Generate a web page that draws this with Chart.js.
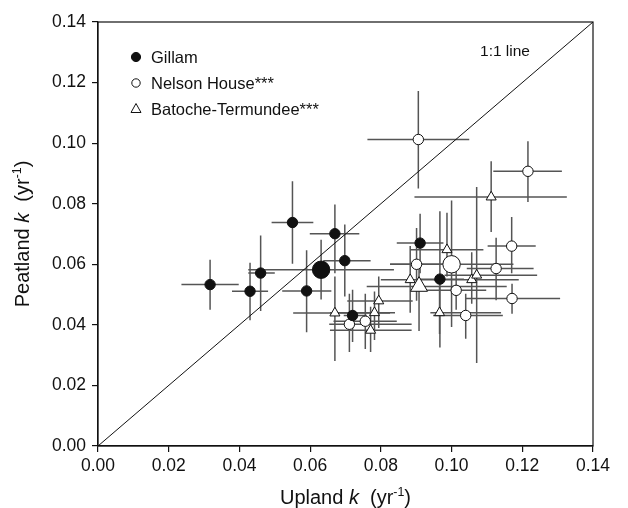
<!DOCTYPE html>
<html>
<head>
<meta charset="utf-8">
<script src="https://cdn.jsdelivr.net/npm/chart.js@4.4.1/dist/chart.umd.min.js"></script>
<style>
  html, body { margin: 0; padding: 0; background: #fff; }
  canvas { display: block; }
</style>
</head>
<body>
<canvas id="kChart" width="628" height="508"></canvas>
<script>
// values (k in yr^-1)
const gillamX   = [0.0317, 0.0430, 0.0460, 0.0550, 0.0590, 0.0631, 0.0670, 0.0698, 0.0720, 0.0911, 0.0967];
const gillamY   = [0.0533, 0.0511, 0.0571, 0.0738, 0.0512, 0.0582, 0.0701, 0.0612, 0.0431, 0.0670, 0.0551];
const gillamXLo = [0.0236, 0.0379, 0.0425, 0.0491, 0.0521, 0.0425, 0.0599, 0.0637, 0.0695, 0.0845, 0.0900];
const gillamXHi = [0.0398, 0.0481, 0.0500, 0.0609, 0.0660, 0.0837, 0.0739, 0.0771, 0.0760, 0.0977, 0.1035];
const gillamYLo = [0.0450, 0.0415, 0.0446, 0.0602, 0.0376, 0.0484, 0.0570, 0.0494, 0.0343, 0.0570, 0.0325];
const gillamYHi = [0.0615, 0.0605, 0.0695, 0.0874, 0.0646, 0.0681, 0.0797, 0.0731, 0.0516, 0.0767, 0.0775];

const nelsonX   = [0.0906, 0.1216, 0.1170, 0.1126, 0.1171, 0.1000, 0.0901, 0.1013, 0.1040, 0.0711, 0.0756];
const nelsonY   = [0.1012, 0.0907, 0.0660, 0.0586, 0.0487, 0.0600, 0.0600, 0.0514, 0.0431, 0.0402, 0.0412];
const nelsonXLo = [0.0762, 0.1118, 0.1102, 0.1043, 0.1038, 0.0826, 0.0826, 0.0920, 0.0948, 0.0654, 0.0666];
const nelsonXHi = [0.1050, 0.1312, 0.1238, 0.1232, 0.1307, 0.1175, 0.0977, 0.1098, 0.1145, 0.0887, 0.0845];
const nelsonYLo = [0.0850, 0.0806, 0.0570, 0.0481, 0.0437, 0.0393, 0.0480, 0.0450, 0.0354, 0.0310, 0.0320];
const nelsonYHi = [0.1172, 0.1006, 0.0756, 0.0688, 0.0536, 0.0811, 0.0720, 0.0590, 0.0503, 0.0503, 0.0503];

const batocheX   = [0.1112, 0.0987, 0.0908, 0.0883, 0.1057, 0.1071, 0.0966, 0.0670, 0.0794, 0.0782, 0.0771];
const batocheY   = [0.0822, 0.0648, 0.0527, 0.0549, 0.0549, 0.0564, 0.0440, 0.0439, 0.0479, 0.0440, 0.0382];
const batocheXLo = [0.0895, 0.0883, 0.0760, 0.0800, 0.0950, 0.0980, 0.0940, 0.0552, 0.0705, 0.0656, 0.0656];
const batocheXHi = [0.1326, 0.1090, 0.1156, 0.0980, 0.1190, 0.1242, 0.1140, 0.0826, 0.0890, 0.0840, 0.0887];
const batocheYLo = [0.0707, 0.0560, 0.0380, 0.0440, 0.0470, 0.0274, 0.0370, 0.0281, 0.0390, 0.0350, 0.0310];
const batocheYHi = [0.0940, 0.0770, 0.0590, 0.0660, 0.0640, 0.0855, 0.0530, 0.0560, 0.0560, 0.0510, 0.0460];

// the mean of each region is drawn larger
const gillamMean = 5, nelsonMean = 5, batocheMean = 2;

const axisTicks = [0, 0.02, 0.04, 0.06, 0.08, 0.10, 0.12, 0.14];
const oneToOne = [0, 0.14];

const FONT = '"Liberation Sans", Arial, Helvetica, sans-serif';

const toPoints = (xs, ys, lx, hx, ly, hy) =>
    xs.map((x, i) => ({ x: x, y: ys[i], xMin: lx[i], xMax: hx[i], yMin: ly[i], yMax: hy[i] }));

const radii = (n, big, r, R) => Array.from({ length: n }, (_, i) => i === big ? R : r);

// error bars, drawn under the markers
const errorBars = {
    id: 'errorBars',
    beforeDatasetsDraw(chart) {
        const ctx = chart.ctx, xs = chart.scales.x, ys = chart.scales.y;
        ctx.save();
        ctx.strokeStyle = '#555';
        ctx.lineWidth = 1.5;
        chart.data.datasets.forEach(ds => {
            if (!ds.bars) return;
            ds.data.forEach(p => {
                const px = xs.getPixelForValue(p.x), py = ys.getPixelForValue(p.y);
                ctx.beginPath();
                ctx.moveTo(xs.getPixelForValue(p.xMin), py);
                ctx.lineTo(xs.getPixelForValue(p.xMax), py);
                ctx.moveTo(px, ys.getPixelForValue(p.yMin));
                ctx.lineTo(px, ys.getPixelForValue(p.yMax));
                ctx.stroke();
            });
        });
        ctx.restore();
    }
};

// mixed-style text: parts of [text, kind] with kind '', 'i' (italic) or 's' (superscript)
function drawRich(ctx, parts, size, cx, cy, angle) {
    const fontFor = k => (k === 'i' ? 'italic ' : '') + (k === 's' ? size * 0.62 : size) + 'px ' + FONT;
    let total = 0;
    parts.forEach(([t, k]) => { ctx.font = fontFor(k); total += ctx.measureText(t).width; });
    ctx.save();
    ctx.translate(cx, cy);
    ctx.rotate(angle);
    ctx.fillStyle = '#111';
    ctx.textBaseline = 'alphabetic';
    ctx.textAlign = 'left';
    let x = -total / 2;
    parts.forEach(([t, k]) => {
        ctx.font = fontFor(k);
        ctx.fillText(t, x, k === 's' ? -size * 0.42 + size * 0.36 : size * 0.36);
        x += ctx.measureText(t).width;
    });
    ctx.restore();
}

const decorations = {
    id: 'decorations',
    afterDraw(chart) {
        const ctx = chart.ctx, a = chart.chartArea;
        ctx.save();
        // frame
        ctx.strokeStyle = '#111';
        ctx.lineWidth = 1.2;
        ctx.strokeRect(a.left, a.top, a.right - a.left, a.bottom - a.top);

        // legend
        const rows = [['Gillam', 'fill'], ['Nelson House***', 'open'], ['Batoche-Termundee***', 'tri']];
        rows.forEach(([label, kind], i) => {
            const mx = 136, my = 57 + i * 26;
            ctx.beginPath();
            if (kind === 'tri') {
                ctx.moveTo(mx, my - 5.5);
                ctx.lineTo(mx + 5, my + 3.5);
                ctx.lineTo(mx - 5, my + 3.5);
                ctx.closePath();
            } else {
                ctx.arc(mx, my, kind === 'fill' ? 4.6 : 4.2, 0, Math.PI * 2);
            }
            ctx.fillStyle = kind === 'fill' ? '#111' : '#fff';
            ctx.fill();
            ctx.lineWidth = 1;
            ctx.strokeStyle = '#111';
            ctx.stroke();
            ctx.fillStyle = '#111';
            ctx.font = '16.5px ' + FONT;
            ctx.textAlign = 'left';
            ctx.textBaseline = 'middle';
            ctx.fillText(label, 151, my + 1);
        });

        ctx.font = '15.5px ' + FONT;
        ctx.textAlign = 'center';
        ctx.fillText('1:1 line', 505, 52);
        ctx.restore();

        // axis titles
        drawRich(ctx, [['Upland ', ''], ['k', 'i'], ['  (yr', ''], ['-1', 's'], [')', '']], 20, (a.left + a.right) / 2, 497, 0);
        drawRich(ctx, [['Peatland ', ''], ['k', 'i'], ['  (yr', ''], ['-1', 's'], [')', '']], 20, 22, (a.top + a.bottom) / 2, -Math.PI / 2);
    }
};

new Chart(document.getElementById('kChart'), {
    type: 'scatter',
    data: {
        datasets: [
            {
                label: '1:1 line',
                type: 'line',
                data: oneToOne.map(v => ({ x: v, y: v })),
                borderColor: '#111',
                borderWidth: 1,
                pointRadius: 0,
                fill: false
            },
            {
                label: 'Gillam',
                bars: true,
                data: toPoints(gillamX, gillamY, gillamXLo, gillamXHi, gillamYLo, gillamYHi),
                pointStyle: 'circle',
                pointRadius: radii(gillamX.length, gillamMean, 5.2, 8.7),
                backgroundColor: '#111',
                borderColor: '#111',
                borderWidth: 1
            },
            {
                label: 'Nelson House***',
                bars: true,
                data: toPoints(nelsonX, nelsonY, nelsonXLo, nelsonXHi, nelsonYLo, nelsonYHi),
                pointStyle: 'circle',
                pointRadius: radii(nelsonX.length, nelsonMean, 5.2, 8.7),
                backgroundColor: '#fff',
                borderColor: '#111',
                borderWidth: 1
            },
            {
                label: 'Batoche-Termundee***',
                bars: true,
                data: toPoints(batocheX, batocheY, batocheXLo, batocheXHi, batocheYLo, batocheYHi),
                pointStyle: 'triangle',
                pointRadius: radii(batocheX.length, batocheMean, 5.8, 9.8),
                backgroundColor: '#fff',
                borderColor: '#111',
                borderWidth: 1
            }
        ]
    },
    options: {
        responsive: false,
        animation: false,
        layout: { padding: { left: 0, right: 35, top: 22, bottom: 0 } },
        plugins: {
            legend: { display: false },
            tooltip: { enabled: false }
        },
        scales: {
            x: {
                type: 'linear',
                min: 0,
                max: 0.14,
                afterFit: s => { s.height = 62; },
                afterBuildTicks: s => { s.ticks = axisTicks.map(v => ({ value: v })); },
                ticks: {
                    color: '#111',
                    padding: 4,
                    font: { size: 17.5, family: FONT },
                    callback: v => v.toFixed(2)
                },
                grid: { drawOnChartArea: false, drawTicks: true, tickLength: 6, color: '#111', lineWidth: 1.2 },
                border: { display: true, color: '#111', width: 1.2 }
            },
            y: {
                type: 'linear',
                min: 0,
                max: 0.14,
                afterFit: s => { s.width = 98; },
                afterBuildTicks: s => { s.ticks = axisTicks.map(v => ({ value: v })); },
                ticks: {
                    color: '#111',
                    padding: 6,
                    font: { size: 17.5, family: FONT },
                    callback: v => v.toFixed(2)
                },
                grid: { drawOnChartArea: false, drawTicks: true, tickLength: 6, color: '#111', lineWidth: 1.2 },
                border: { display: true, color: '#111', width: 1.2 }
            }
        }
    },
    plugins: [errorBars, decorations]
});
</script>
</body>
</html>
